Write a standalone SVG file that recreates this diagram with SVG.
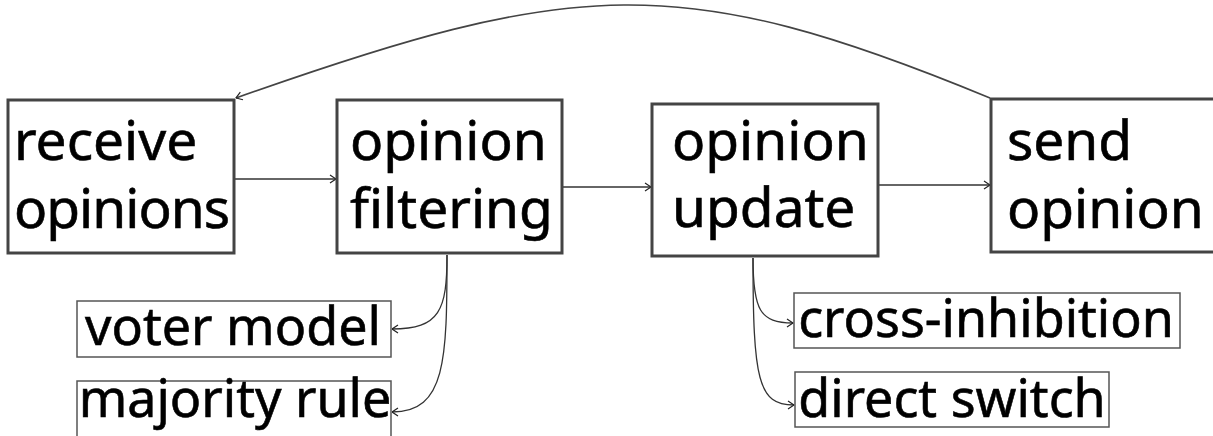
<svg xmlns="http://www.w3.org/2000/svg" width="1213" height="436" viewBox="0 0 1213 436">
  <style>
    .main rect { fill: #ffffff; stroke: #444444; stroke-width: 3; }
    .sub rect { fill: #ffffff; stroke: #555555; stroke-width: 1.5; }
    text { font-family: "Noto Sans", "Open Sans", sans-serif; font-size: 55px; fill: #000000; stroke: #000000; stroke-width: 0.6; }
    .sub text { text-anchor: middle; font-size: 52px; }
    .tight { letter-spacing: -1px; }
    .conn path { fill: none; stroke: #333333; stroke-width: 1.3; marker-end: url(#arr); }
    .conn path.arc { stroke: #444444; stroke-width: 1.6; }
  </style>
  <defs>
    <marker id="arr" viewBox="0 0 8 10" refX="7.5" refY="5" markerWidth="8" markerHeight="10" markerUnits="userSpaceOnUse" orient="auto">
      <path d="M1.5,1 L7.5,5 L1.5,9" fill="none" stroke="#222222" stroke-width="1.2"/>
    </marker>
  </defs>

  <g id="connectors" class="conn">
    <path class="arc" d="M990,98 C680,-30 575,-22 236,98"/>
    <path d="M234,179 L336,179"/>
    <path d="M563,187 L651,187"/>
    <path d="M879,185 L990,185"/>
    <path d="M447,255 C447,310 440,329 392,329"/>
    <path d="M447,255 C447,360 446,412 392,412"/>
    <path d="M753,258 C753,310 760,323 793,323"/>
    <path d="M753,258 C753,380 758,405 794,405"/>
  </g>

  <g id="receive-opinions" class="main">
    <rect x="8" y="100" width="226" height="153"/>
    <text x="14" y="160">receive</text>
    <text class="tight" x="14" y="228">opinions</text>
  </g>

  <g id="opinion-filtering" class="main">
    <rect x="337" y="100" width="225" height="153"/>
    <text x="350" y="160">opinion</text>
    <text x="350" y="228">filtering</text>
  </g>

  <g id="opinion-update" class="main">
    <rect x="652" y="104" width="226" height="152"/>
    <text x="672" y="160">opinion</text>
    <text x="672" y="227">update</text>
  </g>

  <g id="send-opinion" class="main">
    <rect x="991" y="99" width="240" height="153"/>
    <text x="1007" y="160">send</text>
    <text x="1007" y="228">opinion</text>
  </g>

  <g id="voter-model" class="sub">
    <rect x="77" y="301" width="314" height="56"/>
    <text x="233" y="345">voter model</text>
  </g>

  <g id="majority-rule" class="sub">
    <rect x="77" y="381" width="314" height="70"/>
    <text x="235" y="417">majority rule</text>
  </g>

  <g id="cross-inhibition" class="sub">
    <rect x="794" y="293" width="386" height="55"/>
    <text x="986" y="337">cross-inhibition</text>
  </g>

  <g id="direct-switch" class="sub">
    <rect x="795" y="372" width="314" height="55"/>
    <text x="952" y="417">direct switch</text>
  </g>
</svg>
